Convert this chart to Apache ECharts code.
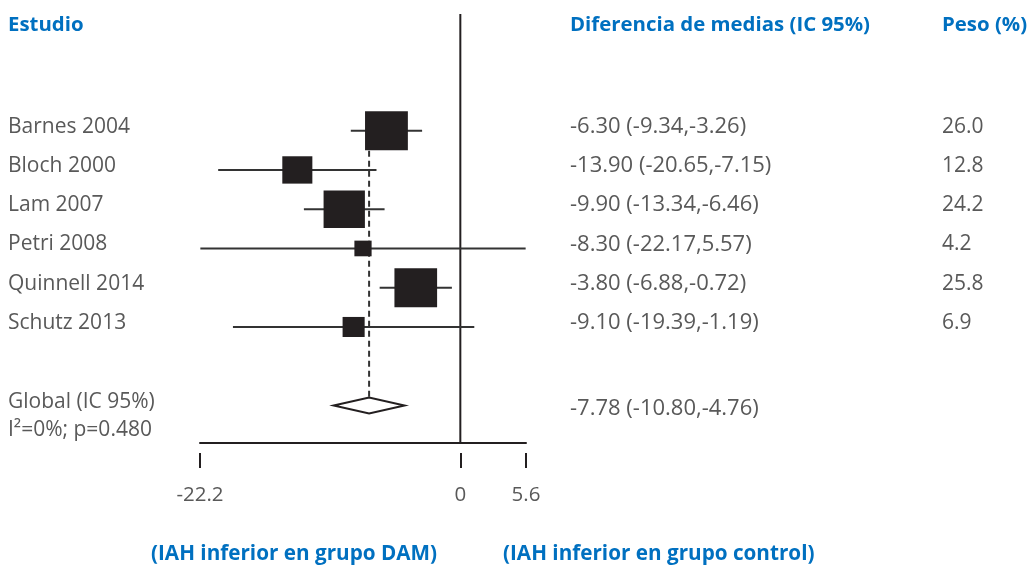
<!DOCTYPE html>
<html>
<head>
<meta charset="utf-8">
<script src="https://cdn.jsdelivr.net/npm/echarts@6/dist/echarts.min.js"></script>
<style>html,body{margin:0;padding:0;background:#fff;}#c{width:1032px;height:567px;}</style>
</head>
<body>
<div id="c"></div>
<script>
// ---- data ----
const studies = ['Barnes 2004', 'Bloch 2000', 'Lam 2007', 'Petri 2008', 'Quinnell 2014', 'Schutz 2013'];
const estimates = [-6.30, -13.90, -9.90, -8.30, -3.80, -9.10];
const ciLow = [-9.34, -20.65, -13.34, -22.17, -6.88, -19.39];
const ciHigh = [-3.26, -7.15, -6.46, 5.57, -0.72, 1.19];
const weights = [26.0, 12.8, 24.2, 4.2, 25.8, 6.9];
const ciLabels = ['-6.30 (-9.34,-3.26)', '-13.90 (-20.65,-7.15)', '-9.90 (-13.34,-6.46)', '-8.30 (-22.17,5.57)', '-3.80 (-6.88,-0.72)', '-9.10 (-19.39,-1.19)'];
const weightLabels = ['26.0', '12.8', '24.2', '4.2', '25.8', '6.9'];
const overallEstimate = -7.78;
const overallLow = -10.80;
const overallHigh = -4.76;
const overallLabel = 'Global (IC 95%)';
const overallCiLabel = '-7.78 (-10.80,-4.76)';
const heterogeneityLabel = 'I²=0%; p=0.480';
const xTicks = [-22.2, 0, 5.6];
const nullValue = 0;
const headers = ['Estudio', 'Diferencia de medias (IC 95%)', 'Peso (%)'];
const footers = ['(IAH inferior en grupo DAM)', '(IAH inferior en grupo control)'];

// ---- layout ----
const FONT = '"Open Sans", sans-serif';
const TXT = '#595959';
const BLUE = '#0070c0';
const INK = '#231f20';
const overallRow = 7;
const yMin = -2.972, yMax = 7.955;
const xMin = -22.2, xMax = 5.6;

const chart = echarts.init(document.getElementById('c'), null, {renderer: 'canvas'});

const rowsIdx = studies.map((s, i) => i);

const option = {
  animation: false,
  backgroundColor: '#fff',
  grid: {left: 200, width: 326, top: 14, bottom: 124, containLabel: false},
  xAxis: [
    {
      type: 'value', min: xMin, max: xMax, position: 'bottom',
      axisLine: {show: true, onZero: false, lineStyle: {color: INK, width: 2}},
      axisTick: {show: false}, axisLabel: {show: false}, splitLine: {show: false}
    },
    {
      type: 'value', min: xMin, max: xMax, position: 'bottom', offset: 10,
      axisLine: {show: false, onZero: false},
      axisTick: {show: true, customValues: xTicks, length: 15, lineStyle: {color: INK, width: 2}},
      axisLabel: {show: true, customValues: xTicks, margin: 32, fontSize: 20.5, fontFamily: FONT, color: TXT,
        formatter: v => String(v)},
      splitLine: {show: false}
    }
  ],
  yAxis: {
    type: 'value', inverse: true, min: yMin, max: yMax, show: false
  },
  series: [
    { // null-effect vertical line
      type: 'custom', xAxisIndex: 0, clip: false, z: 1,
      data: [[nullValue]],
      renderItem: function (params, api) {
        const a = api.coord([api.value(0), yMin]);
        const b = api.coord([api.value(0), yMax]);
        return {type: 'line', shape: {x1: a[0], y1: a[1], x2: b[0], y2: b[1]},
          style: {stroke: INK, lineWidth: 2}};
      }
    },
    { // CI lines
      type: 'custom', xAxisIndex: 0, clip: true, z: 2,
      data: rowsIdx.map(i => [ciLow[i], ciHigh[i], i]),
      renderItem: function (params, api) {
        const a = api.coord([api.value(0), api.value(2)]);
        const b = api.coord([api.value(1), api.value(2)]);
        return {type: 'line', shape: {x1: a[0], y1: a[1], x2: b[0], y2: b[1]},
          style: {stroke: '#333333', lineWidth: 2}};
      }
    },
    { // overall dashed line
      type: 'custom', xAxisIndex: 0, clip: false, z: 2,
      data: [[overallEstimate, 0, overallRow]],
      renderItem: function (params, api) {
        const a = api.coord([api.value(0), api.value(1)]);
        const b = api.coord([api.value(0), api.value(2)]);
        return {type: 'line', shape: {x1: a[0], y1: a[1], x2: b[0], y2: b[1] - 8},
          style: {stroke: '#333333', lineWidth: 2, lineDash: [6, 4]}};
      }
    },
    { // study squares
      type: 'scatter', xAxisIndex: 0, z: 3,
      symbol: 'rect',
      data: rowsIdx.map(i => [estimates[i], i, weights[i]]),
      symbolSize: function (val) {
        const w = 8.4 * Math.sqrt(val[2]);
        return [w, w * 0.91];
      },
      itemStyle: {color: INK, opacity: 1},
      silent: true
    },
    { // overall diamond
      type: 'custom', xAxisIndex: 0, clip: false, z: 4,
      data: [[overallLow, overallEstimate, overallHigh, overallRow]],
      renderItem: function (params, api) {
        const l = api.coord([api.value(0), api.value(3)]);
        const m = api.coord([api.value(1), api.value(3)]);
        const r = api.coord([api.value(2), api.value(3)]);
        const h = 8;
        return {type: 'polygon', shape: {points: [[l[0], l[1]], [m[0], m[1] - h], [r[0], r[1]], [m[0], m[1] + h]]},
          style: {fill: '#fff', stroke: INK, lineWidth: 2}};
      }
    }
  ]
};
chart.setOption(option);

// ---- text columns placed on the row positions ----
function rowY(r) { return chart.convertToPixel({yAxisIndex: 0}, r); }
const g = [];
function txt(x, y, s, opts) {
  g.push({type: 'text', x: x, y: y, silent: true,
    style: Object.assign({text: s, fontSize: 21, fontFamily: FONT, fill: TXT, verticalAlign: 'middle', align: 'left'}, opts || {})});
}
const HEAD = {fill: BLUE, fontWeight: 'bold', fontSize: 20.4};
const FOOT = {fill: BLUE, fontWeight: 'bold', fontSize: 20.7};
txt(8, 25, headers[0], HEAD);
txt(570, 25, headers[1], HEAD);
txt(942, 25, headers[2], HEAD);
studies.forEach((s, i) => {
  const y = rowY(i) - 4;
  txt(8, y, s);
  txt(570, y, ciLabels[i], {fontSize: 22});
  txt(942, y, weightLabels[i]);
});
txt(8, rowY(overallRow) - 3, overallLabel);
txt(8, rowY(overallRow) + 25, heterogeneityLabel);
txt(570, rowY(overallRow) + 3, overallCiLabel, {fontSize: 22});
txt(151, 554, footers[0], FOOT);
txt(503, 554, footers[1], FOOT);
chart.setOption({graphic: {elements: g}});
</script>
</body>
</html>
